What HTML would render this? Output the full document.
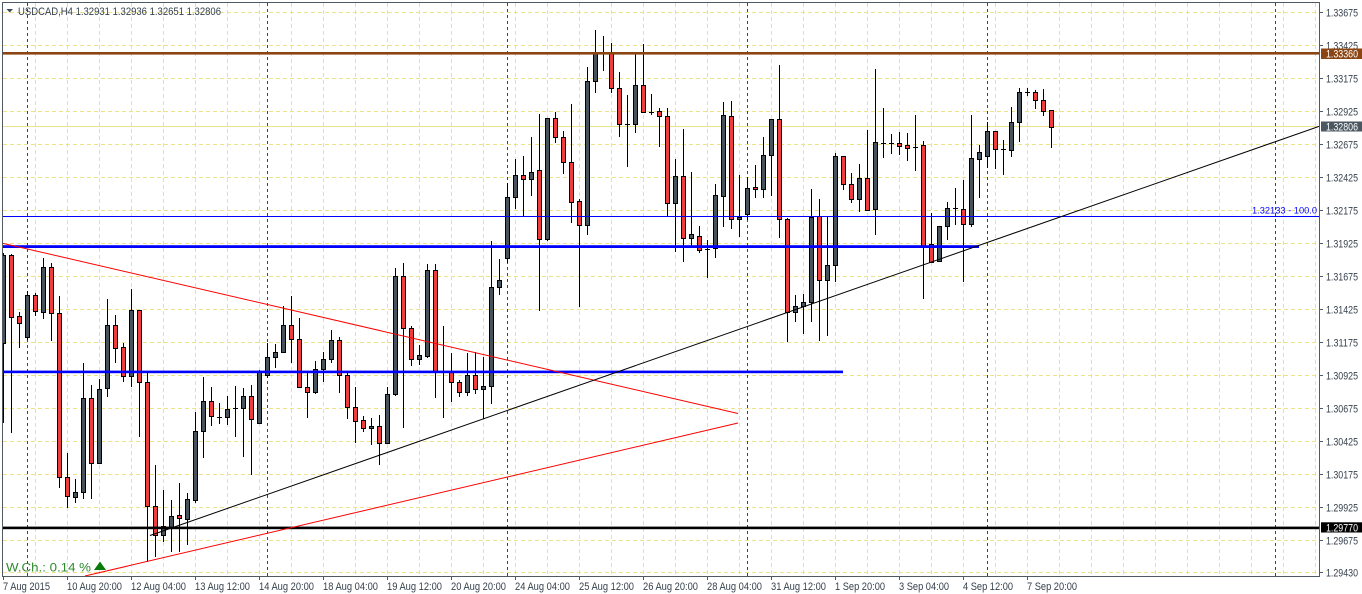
<!DOCTYPE html>
<html><head><meta charset="utf-8"><style>
html,body{margin:0;padding:0;background:#fff;}
svg{display:block;}
text{font-family:"Liberation Sans",sans-serif;}
</style></head><body>
<svg width="1362" height="594" viewBox="0 0 1362 594" xmlns="http://www.w3.org/2000/svg">
<defs><clipPath id="c"><rect x="3" y="3" width="1316" height="573"/></clipPath></defs>
<rect width="1362" height="594" fill="#fff"/>
<g clip-path="url(#c)">
<g stroke="#ece28c" stroke-width="1" stroke-dasharray="4,3" fill="none">
<path d="M3 12.5H1319M3 45.5H1319M3 78.5H1319M3 111.5H1319M3 144.5H1319M3 177.5H1319M3 210.5H1319M3 243.5H1319M3 276.5H1319M3 309.5H1319M3 342.5H1319M3 375.5H1319M3 408.5H1319M3 441.5H1319M3 474.5H1319M3 507.5H1319M3 540.5H1319M3 572.5H1319"/>
<path d="M35.5 3V576M67.5 3V576M99.5 3V576M131.5 3V576M163.5 3V576M195.5 3V576M227.5 3V576M259.5 3V576M291.5 3V576M323.5 3V576M355.5 3V576M387.5 3V576M419.5 3V576M451.5 3V576M483.5 3V576M515.5 3V576M547.5 3V576M579.5 3V576M611.5 3V576M643.5 3V576M675.5 3V576M707.5 3V576M739.5 3V576M771.5 3V576M803.5 3V576M835.5 3V576M867.5 3V576M899.5 3V576M931.5 3V576M963.5 3V576M995.5 3V576M1027.5 3V576M1059.5 3V576M1091.5 3V576M1123.5 3V576M1155.5 3V576M1187.5 3V576M1219.5 3V576M1251.5 3V576M1283.5 3V576M1315.5 3V576"/>
</g>
<path d="M27.5 3V576M267.5 3V576M507.5 3V576M747.5 3V576M987.5 3V576M1275.5 3V576" stroke="#3f444a" stroke-width="1" stroke-dasharray="3,3" fill="none"/>
<path d="M3 126.5H1319" stroke="#ece28c" stroke-width="1"/>
<path stroke="#000" stroke-width="1" fill="none" d="M3.5 253V423M11.5 254V433M19.5 312V348M27.5 291V340M35.5 293V316M43.5 258V319M51.5 263V341M59.5 296V488M67.5 453V508M75.5 479V503M83.5 363V499M91.5 385V499M99.5 379V463M107.5 299V397M115.5 315V363M123.5 343V382M131.5 289V387M139.5 310V437M147.5 372V562M155.5 465V557M163.5 490V542M171.5 500V552M179.5 483V552M187.5 493V545M195.5 412V503M203.5 377V458M211.5 387V426M219.5 403V424M227.5 396V425M235.5 386V437M243.5 388V457M251.5 385V475M259.5 370V424M267.5 343V378M275.5 344V368M283.5 306V353M291.5 296V363M299.5 318V388M307.5 372V418M315.5 361V394M323.5 352V382M331.5 330V363M339.5 337V393M347.5 372V419M355.5 387V443M363.5 416V432M371.5 418V445M379.5 415V465M387.5 387V443M395.5 268V396M403.5 263V428M411.5 326V366M419.5 345V365M427.5 264V358M435.5 264V398M443.5 326V418M451.5 353V402M459.5 380V397M467.5 353V396M475.5 352V394M483.5 357V419M491.5 241V404M499.5 259V295M507.5 183V263M515.5 159V209M523.5 156V217M531.5 137V196M539.5 114V311M547.5 118V241M555.5 112V143M563.5 131V174M571.5 104V223M579.5 199V307M587.5 67V235M595.5 30V93M603.5 36V71M611.5 43V93M619.5 72V137M627.5 95V167M635.5 53V133M643.5 44V113M651.5 94V115M659.5 108V147M667.5 108V216M675.5 159V252M683.5 129V262M691.5 172V248M699.5 226V253M707.5 240V278M715.5 184V258M723.5 102V227M731.5 101V229M739.5 175V237M747.5 177V220M755.5 165V198M763.5 137V198M771.5 119V196M779.5 65V238M787.5 218V342M795.5 295V322M803.5 294V334M811.5 189V322M819.5 199V341M827.5 217V336M835.5 153V282M843.5 156V190M851.5 173V203M859.5 164V212M867.5 130V210M875.5 69V235M883.5 108V158M891.5 134V154M899.5 132V155M907.5 133V161M915.5 115V171M923.5 141V299M931.5 213V263M939.5 226V261M947.5 202V240M955.5 188V225M963.5 180V282M971.5 115V227M979.5 145V198M987.5 122V168M995.5 131V169M1003.5 140V175M1011.5 107V157M1019.5 88V142M1027.5 88V96M1035.5 90V109M1043.5 89V116M1051.5 110V148"/>
<g stroke="#000" stroke-width="1" fill="#46525c">
<rect x="1.5" y="255.5" width="4" height="88"/>
<rect x="25.5" y="295.5" width="4" height="42"/>
<rect x="41.5" y="267.5" width="4" height="45"/>
<rect x="73.5" y="492.5" width="4" height="5"/>
<rect x="81.5" y="398.5" width="4" height="94"/>
<rect x="97.5" y="389.5" width="4" height="74"/>
<rect x="105.5" y="325.5" width="4" height="63"/>
<rect x="129.5" y="310.5" width="4" height="66"/>
<rect x="161.5" y="526.5" width="4" height="9"/>
<rect x="169.5" y="516.5" width="4" height="12"/>
<rect x="185.5" y="499.5" width="4" height="20"/>
<rect x="193.5" y="431.5" width="4" height="69"/>
<rect x="201.5" y="401.5" width="4" height="30"/>
<rect x="225.5" y="409.5" width="4" height="8"/>
<rect x="241.5" y="396.5" width="4" height="12"/>
<rect x="257.5" y="371.5" width="4" height="52"/>
<rect x="265.5" y="357.5" width="4" height="18"/>
<rect x="273.5" y="352.5" width="4" height="5"/>
<rect x="281.5" y="325.5" width="4" height="27"/>
<rect x="313.5" y="369.5" width="4" height="23"/>
<rect x="321.5" y="359.5" width="4" height="10"/>
<rect x="329.5" y="340.5" width="4" height="19"/>
<rect x="369.5" y="426.5" width="4" height="2"/>
<rect x="385.5" y="394.5" width="4" height="49"/>
<rect x="393.5" y="276.5" width="4" height="118"/>
<rect x="417.5" y="355.5" width="4" height="4"/>
<rect x="425.5" y="270.5" width="4" height="86"/>
<rect x="465.5" y="375.5" width="4" height="17"/>
<rect x="481.5" y="386.5" width="4" height="3"/>
<rect x="489.5" y="287.5" width="4" height="99"/>
<rect x="497.5" y="280.5" width="4" height="7"/>
<rect x="505.5" y="197.5" width="4" height="61"/>
<rect x="513.5" y="175.5" width="4" height="22"/>
<rect x="529.5" y="172.5" width="4" height="7"/>
<rect x="545.5" y="118.5" width="4" height="121"/>
<rect x="585.5" y="81.5" width="4" height="144"/>
<rect x="593.5" y="52.5" width="4" height="29"/>
<rect x="633.5" y="85.5" width="4" height="39"/>
<rect x="673.5" y="176.5" width="4" height="27"/>
<rect x="689.5" y="234.5" width="4" height="4"/>
<rect x="713.5" y="195.5" width="4" height="53"/>
<rect x="721.5" y="115.5" width="4" height="81"/>
<rect x="737.5" y="217.5" width="4" height="2"/>
<rect x="745.5" y="188.5" width="4" height="26"/>
<rect x="761.5" y="155.5" width="4" height="34"/>
<rect x="769.5" y="119.5" width="4" height="36"/>
<rect x="793.5" y="306.5" width="4" height="6"/>
<rect x="801.5" y="302.5" width="4" height="4"/>
<rect x="809.5" y="217.5" width="4" height="85"/>
<rect x="825.5" y="265.5" width="4" height="15"/>
<rect x="833.5" y="156.5" width="4" height="109"/>
<rect x="857.5" y="178.5" width="4" height="21"/>
<rect x="873.5" y="142.5" width="4" height="67"/>
<rect x="937.5" y="226.5" width="4" height="35"/>
<rect x="945.5" y="208.5" width="4" height="18"/>
<rect x="969.5" y="158.5" width="4" height="66"/>
<rect x="977.5" y="152.5" width="4" height="7"/>
<rect x="985.5" y="131.5" width="4" height="25"/>
<rect x="1009.5" y="122.5" width="4" height="28"/>
<rect x="1017.5" y="92.5" width="4" height="30"/>
</g>
<g stroke="#000" stroke-width="1" fill="#f03c3c">
<rect x="9.5" y="255.5" width="4" height="62"/>
<rect x="17.5" y="316.5" width="4" height="7"/>
<rect x="33.5" y="295.5" width="4" height="16"/>
<rect x="49.5" y="267.5" width="4" height="46"/>
<rect x="57.5" y="313.5" width="4" height="164"/>
<rect x="65.5" y="477.5" width="4" height="19"/>
<rect x="89.5" y="398.5" width="4" height="65"/>
<rect x="113.5" y="325.5" width="4" height="23"/>
<rect x="121.5" y="347.5" width="4" height="29"/>
<rect x="137.5" y="310.5" width="4" height="72"/>
<rect x="145.5" y="382.5" width="4" height="124"/>
<rect x="153.5" y="506.5" width="4" height="29"/>
<rect x="177.5" y="515.5" width="4" height="3"/>
<rect x="209.5" y="401.5" width="4" height="15"/>
<rect x="249.5" y="396.5" width="4" height="23"/>
<rect x="289.5" y="325.5" width="4" height="14"/>
<rect x="297.5" y="339.5" width="4" height="48"/>
<rect x="305.5" y="387.5" width="4" height="5"/>
<rect x="337.5" y="340.5" width="4" height="35"/>
<rect x="345.5" y="375.5" width="4" height="32"/>
<rect x="353.5" y="407.5" width="4" height="14"/>
<rect x="361.5" y="420.5" width="4" height="8"/>
<rect x="377.5" y="426.5" width="4" height="17"/>
<rect x="401.5" y="276.5" width="4" height="52"/>
<rect x="409.5" y="328.5" width="4" height="31"/>
<rect x="433.5" y="270.5" width="4" height="102"/>
<rect x="449.5" y="372.5" width="4" height="10"/>
<rect x="457.5" y="382.5" width="4" height="10"/>
<rect x="473.5" y="375.5" width="4" height="14"/>
<rect x="521.5" y="175.5" width="4" height="4"/>
<rect x="537.5" y="170.5" width="4" height="69"/>
<rect x="553.5" y="118.5" width="4" height="19"/>
<rect x="561.5" y="137.5" width="4" height="25"/>
<rect x="569.5" y="162.5" width="4" height="40"/>
<rect x="577.5" y="201.5" width="4" height="24"/>
<rect x="609.5" y="52.5" width="4" height="36"/>
<rect x="617.5" y="88.5" width="4" height="36"/>
<rect x="641.5" y="85.5" width="4" height="27"/>
<rect x="657.5" y="111.5" width="4" height="5"/>
<rect x="665.5" y="116.5" width="4" height="87"/>
<rect x="681.5" y="176.5" width="4" height="62"/>
<rect x="697.5" y="236.5" width="4" height="14"/>
<rect x="729.5" y="116.5" width="4" height="103"/>
<rect x="753.5" y="187.5" width="4" height="2"/>
<rect x="777.5" y="119.5" width="4" height="100"/>
<rect x="785.5" y="219.5" width="4" height="93"/>
<rect x="817.5" y="216.5" width="4" height="64"/>
<rect x="841.5" y="156.5" width="4" height="28"/>
<rect x="849.5" y="184.5" width="4" height="15"/>
<rect x="865.5" y="178.5" width="4" height="32"/>
<rect x="897.5" y="143.5" width="4" height="3"/>
<rect x="905.5" y="145.5" width="4" height="3"/>
<rect x="921.5" y="145.5" width="4" height="102"/>
<rect x="929.5" y="244.5" width="4" height="18"/>
<rect x="961.5" y="209.5" width="4" height="15"/>
<rect x="993.5" y="131.5" width="4" height="18"/>
<rect x="1033.5" y="92.5" width="4" height="8"/>
<rect x="1041.5" y="100.5" width="4" height="11"/>
<rect x="1049.5" y="110.5" width="4" height="17"/>
</g>
<path stroke="#000" stroke-width="1" fill="none" d="M217 417.5H222M233 408.5H238M441 372.5H446M601 52.5H606M625 124.5H630M649 112.5H654M705 249.5H710M881 143.5H886M889 143.5H894M913 147.5H918M953 208.5H958M1001 149.5H1006M1025 92.5H1030"/>
<rect x="3" y="52" width="1316" height="2.6" fill="#8b4513"/>
<rect x="3" y="216" width="1316" height="1" fill="#0000ff"/>
<rect x="3" y="245.2" width="976" height="2.8" fill="#0000ff"/>
<rect x="3" y="370.6" width="840" height="2.6" fill="#0000ff"/>
<rect x="3" y="526.6" width="1316" height="2.6" fill="#000"/>
<path d="M3 243.3L738 413.5" stroke="#ff0000" stroke-width="1" fill="none"/>
<path d="M85 576L738 423" stroke="#ff0000" stroke-width="1" fill="none"/>
<path d="M150 535.5L1319 126.4" stroke="#000" stroke-width="1" fill="none"/>
<text x="1317" y="213.5" font-size="9.5" fill="#0000ff" text-anchor="end" textLength="65" lengthAdjust="spacingAndGlyphs">1.32133 - 100.0</text>
<polygon points="6.5,9 13,9 9.75,12.5" fill="#3a4a58"/>
<text x="18" y="15" font-size="11" fill="#34414d" textLength="203" lengthAdjust="spacingAndGlyphs">USDCAD,H4  1.32931 1.32936 1.32651 1.32806</text>
<text x="6" y="571.5" font-size="11.5" fill="#2e8b2e" textLength="85" lengthAdjust="spacingAndGlyphs">W.Ch.: 0.14 %</text>
<polygon points="94,570 106,570 100,561.5" fill="#0a7a0a"/>
</g>
<rect x="2.5" y="2.5" width="1317" height="574" fill="none" stroke="#505a64" stroke-width="1"/>
<g stroke="#505a64" stroke-width="1">
<path d="M1320 12.5H1323M1320 45.5H1323M1320 78.5H1323M1320 111.5H1323M1320 144.5H1323M1320 177.5H1323M1320 210.5H1323M1320 243.5H1323M1320 276.5H1323M1320 309.5H1323M1320 342.5H1323M1320 375.5H1323M1320 408.5H1323M1320 441.5H1323M1320 474.5H1323M1320 507.5H1323M1320 540.5H1323M1320 572.5H1323"/>
<path d="M3.5 577V580M67.5 577V580M131.5 577V580M195.5 577V580M259.5 577V580M323.5 577V580M387.5 577V580M451.5 577V580M515.5 577V580M579.5 577V580M643.5 577V580M707.5 577V580M771.5 577V580M835.5 577V580M899.5 577V580M963.5 577V580M1027.5 577V580"/>
</g>
<g font-size="10.8" fill="#36414c">
<text x="1326" y="16.3" textLength="32" lengthAdjust="spacingAndGlyphs">1.33675</text>
<text x="1326" y="49.3" textLength="32" lengthAdjust="spacingAndGlyphs">1.33425</text>
<text x="1326" y="82.3" textLength="32" lengthAdjust="spacingAndGlyphs">1.33175</text>
<text x="1326" y="115.3" textLength="32" lengthAdjust="spacingAndGlyphs">1.32925</text>
<text x="1326" y="148.3" textLength="32" lengthAdjust="spacingAndGlyphs">1.32675</text>
<text x="1326" y="181.3" textLength="32" lengthAdjust="spacingAndGlyphs">1.32425</text>
<text x="1326" y="214.3" textLength="32" lengthAdjust="spacingAndGlyphs">1.32175</text>
<text x="1326" y="247.3" textLength="32" lengthAdjust="spacingAndGlyphs">1.31925</text>
<text x="1326" y="280.3" textLength="32" lengthAdjust="spacingAndGlyphs">1.31675</text>
<text x="1326" y="313.3" textLength="32" lengthAdjust="spacingAndGlyphs">1.31425</text>
<text x="1326" y="346.3" textLength="32" lengthAdjust="spacingAndGlyphs">1.31175</text>
<text x="1326" y="379.3" textLength="32" lengthAdjust="spacingAndGlyphs">1.30925</text>
<text x="1326" y="412.3" textLength="32" lengthAdjust="spacingAndGlyphs">1.30675</text>
<text x="1326" y="445.3" textLength="32" lengthAdjust="spacingAndGlyphs">1.30425</text>
<text x="1326" y="478.3" textLength="32" lengthAdjust="spacingAndGlyphs">1.30175</text>
<text x="1326" y="511.3" textLength="32" lengthAdjust="spacingAndGlyphs">1.29925</text>
<text x="1326" y="544.3" textLength="32" lengthAdjust="spacingAndGlyphs">1.29675</text>
<text x="1326" y="576.3" textLength="32" lengthAdjust="spacingAndGlyphs">1.29430</text>
</g>
<rect x="1321" y="48.5" width="41" height="10.5" fill="#8b4513"/>
<text x="1326" y="57.7" font-size="10.8" fill="#fff" textLength="32" lengthAdjust="spacingAndGlyphs">1.33360</text>
<rect x="1321" y="121.5" width="41" height="10" fill="#4b5761"/>
<text x="1326" y="130.5" font-size="10.8" fill="#fff" textLength="32" lengthAdjust="spacingAndGlyphs">1.32806</text>
<rect x="1321" y="522.3" width="41" height="10.2" fill="#000"/>
<text x="1326" y="531.3" font-size="10.8" fill="#fff" textLength="32" lengthAdjust="spacingAndGlyphs">1.29770</text>
<g font-size="10.8" fill="#36414c">
<text x="3" y="589.8" textLength="47" lengthAdjust="spacingAndGlyphs">7 Aug 2015</text>
<text x="67" y="589.8" textLength="55" lengthAdjust="spacingAndGlyphs">10 Aug 20:00</text>
<text x="131" y="589.8" textLength="55" lengthAdjust="spacingAndGlyphs">12 Aug 04:00</text>
<text x="195" y="589.8" textLength="55" lengthAdjust="spacingAndGlyphs">13 Aug 12:00</text>
<text x="259" y="589.8" textLength="55" lengthAdjust="spacingAndGlyphs">14 Aug 20:00</text>
<text x="323" y="589.8" textLength="55" lengthAdjust="spacingAndGlyphs">18 Aug 04:00</text>
<text x="387" y="589.8" textLength="55" lengthAdjust="spacingAndGlyphs">19 Aug 12:00</text>
<text x="451" y="589.8" textLength="55" lengthAdjust="spacingAndGlyphs">20 Aug 20:00</text>
<text x="515" y="589.8" textLength="55" lengthAdjust="spacingAndGlyphs">24 Aug 04:00</text>
<text x="579" y="589.8" textLength="55" lengthAdjust="spacingAndGlyphs">25 Aug 12:00</text>
<text x="643" y="589.8" textLength="55" lengthAdjust="spacingAndGlyphs">26 Aug 20:00</text>
<text x="707" y="589.8" textLength="55" lengthAdjust="spacingAndGlyphs">28 Aug 04:00</text>
<text x="771" y="589.8" textLength="55" lengthAdjust="spacingAndGlyphs">31 Aug 12:00</text>
<text x="835" y="589.8" textLength="50" lengthAdjust="spacingAndGlyphs">1 Sep 20:00</text>
<text x="899" y="589.8" textLength="50" lengthAdjust="spacingAndGlyphs">3 Sep 04:00</text>
<text x="963" y="589.8" textLength="50" lengthAdjust="spacingAndGlyphs">4 Sep 12:00</text>
<text x="1027" y="589.8" textLength="50" lengthAdjust="spacingAndGlyphs">7 Sep 20:00</text>
</g>
</svg>
</body></html>
